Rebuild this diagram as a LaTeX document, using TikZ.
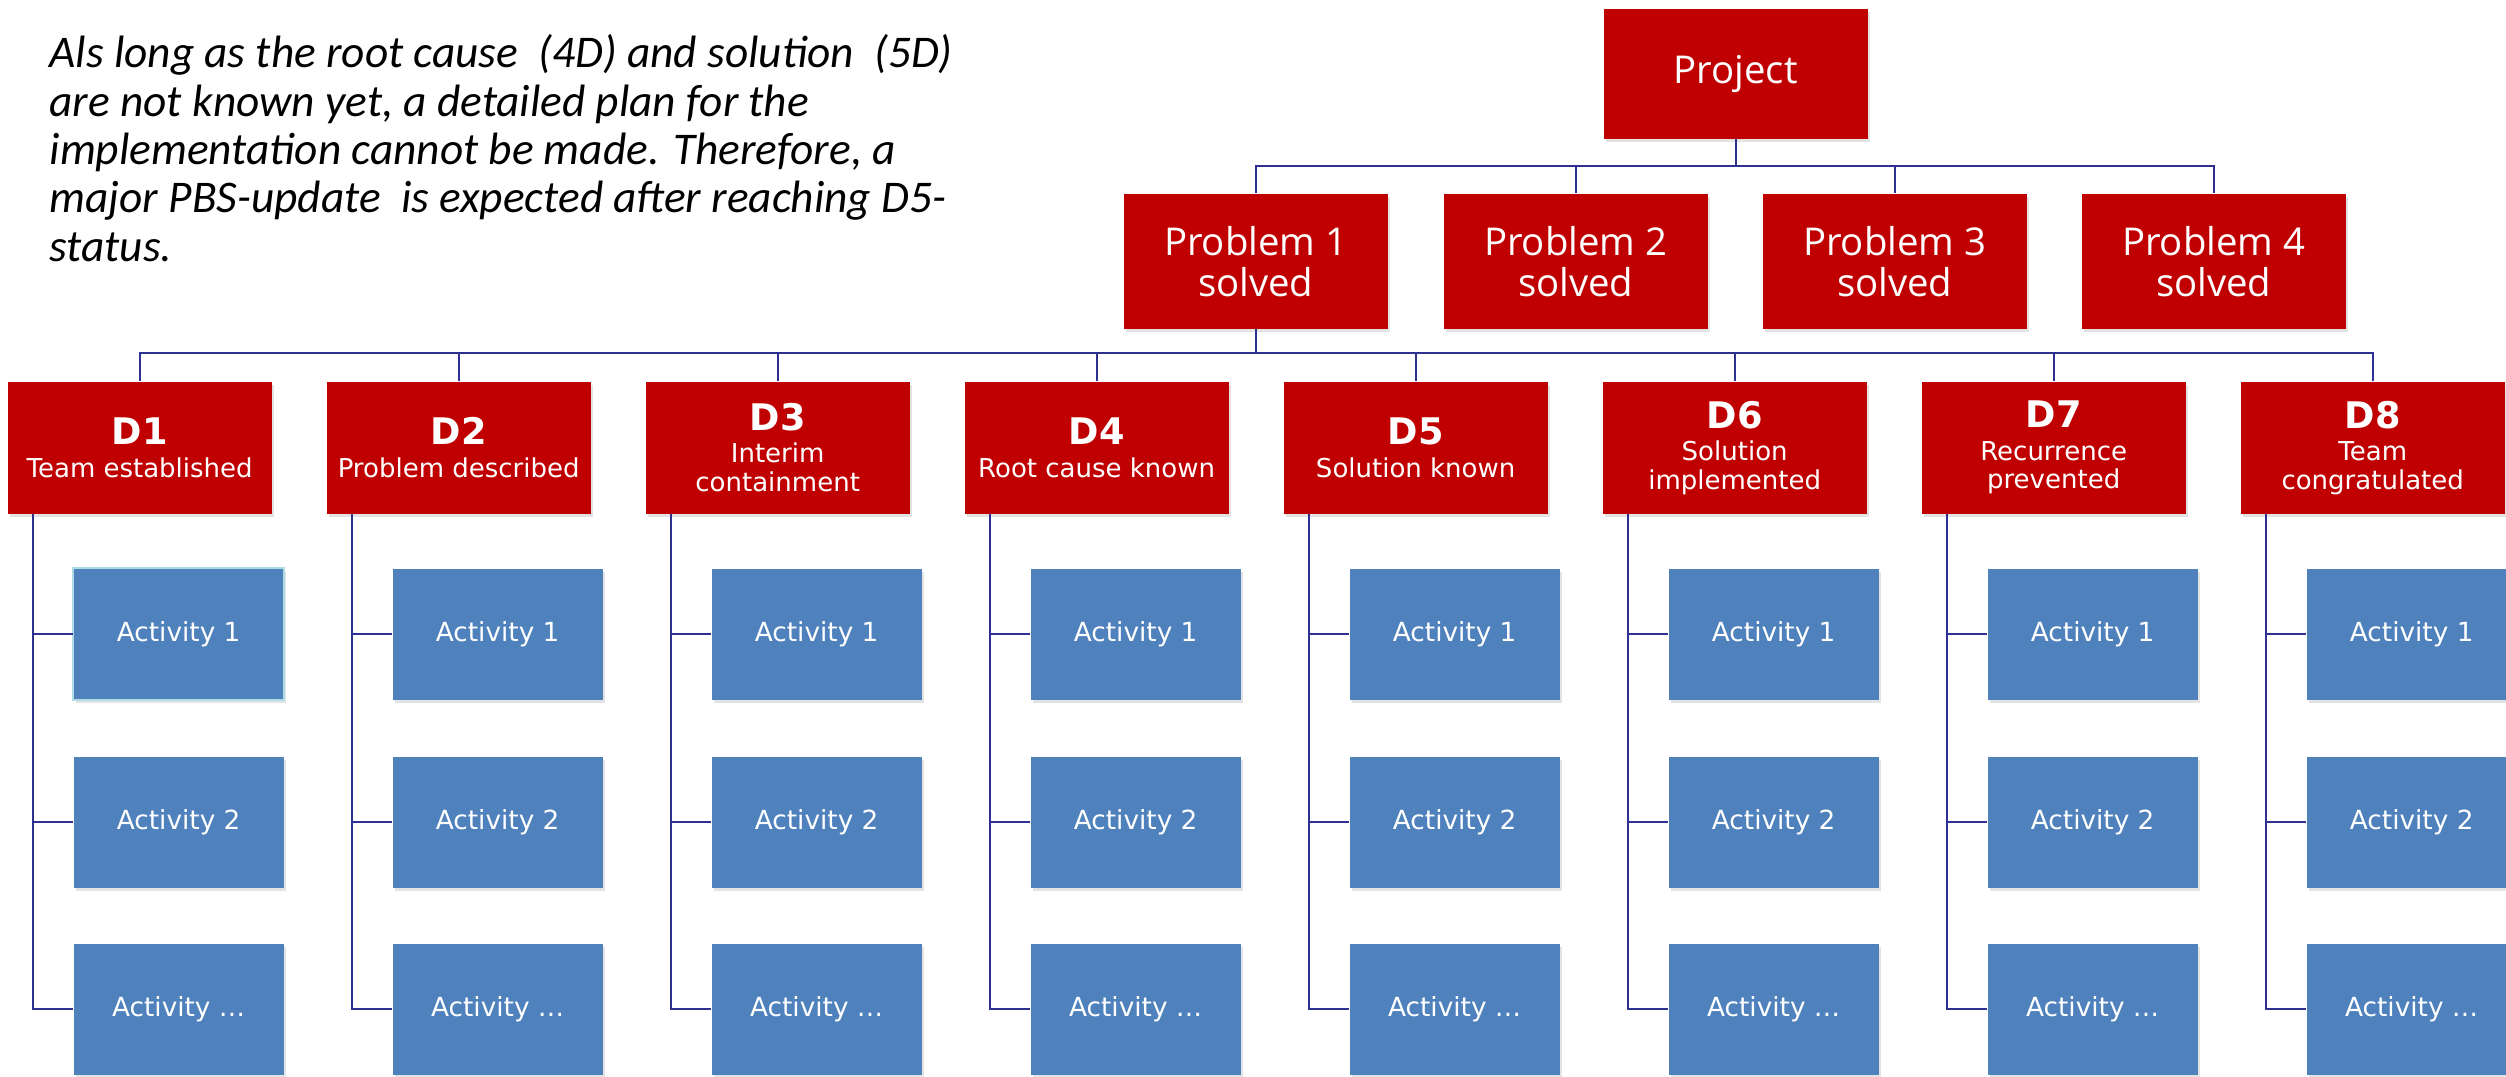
\documentclass[tikz,border=0pt]{standalone}
\usepackage{fontspec}
\setmainfont{DejaVu Sans}
\newfontfamily\segoe{Open Sans}
\newfontfamily\notefont{Carlito}
\usetikzlibrary{shadows}
\definecolor{boxred}{RGB}{192,0,0}
\definecolor{boxblue}{RGB}{79,129,189}
\definecolor{linkblue}{RGB}{46,49,146}
\definecolor{glow}{RGB}{175,220,228}
\begin{document}
\begin{tikzpicture}[x=0.3pt,y=-0.3pt,
  shd/.style={drop shadow={shadow xshift=0.7pt,shadow yshift=-0.9pt,opacity=0.22}},
  redbox/.style={fill=boxred,text=white,inner sep=0pt,minimum width=79.2pt,anchor=north west,align=center,shd},
  topbox/.style={redbox,font=\segoe\fontsize{11.5}{12.3}\selectfont},
  dbox/.style={redbox,minimum height=39.6pt,font=\fontsize{7.8}{8.6}\selectfont},
  actbox/.style={fill=boxblue,text=white,inner sep=0pt,minimum width=63pt,minimum height=39.3pt,anchor=north west,font=\fontsize{7.9}{9}\selectfont,shd},
  link/.style={draw=linkblue,line width=0.6pt}]
\useasboundingbox (0,0) rectangle (2506,1076);
\clip (0,0) rectangle (2506,1076);

% note
\node[anchor=north west,align=left,inner sep=0pt,font=\notefont\itshape\fontsize{13.6}{14.5}\selectfont] (note) at (49,34)
 {Als long as the root cause~ (4D) and solution~ (5D)\\are not known yet, a detailed plan for the\\implementation cannot be made. Therefore, a\\major PBS-update~ is expected after reaching D5-\\status.};

% project and problems
\node[topbox,minimum height=39pt] (proj) at (1603,8) {Project};
\foreach \i/\x in {1/1123,2/1443,3/1762,4/2081}
  \node[topbox,minimum height=40.5pt] (P\i) at (\x,193) {Problem \i\\solved};

% D boxes
\foreach \i/\x/\t in {1/7/{Team established},2/326/{Problem described},3/645/{Interim\\containment},4/964/{Root cause known},5/1283/{Solution known},6/1602/{Solution\\implemented},7/1921/{Recurrence\\prevented},8/2240/{Team\\congratulated}}
  \node[dbox] (D\i) at (\x,381) {{\fontsize{11}{12}\selectfont\bfseries D\i}\\[1.1pt]\t};

% activities
\foreach \i/\x in {1/73,2/392,3/711,4/1030,5/1349,6/1668,7/1987,8/2306}{
  \node[actbox] (A\i-1) at (\x,568) {Activity 1};
  \node[actbox] (A\i-2) at (\x,756) {Activity 2};
  \node[actbox] (A\i-3) at (\x,943) {Activity …};
}
\draw[glow,line width=0.6pt] (A1-1.north west) rectangle (A1-1.south east);

% connectors top
\coordinate (pbar) at (proj.south |- 0,166);
\draw[link] (proj.south) -- (pbar);
\draw[link] (P1.north) |- (pbar) -| (P4.north);
\foreach \i in {2,3}
  \draw[link] (P\i.north) -- (P\i.north |- pbar);

% connectors to D
\coordinate (dbar) at (P1.south |- 0,353);
\draw[link] (P1.south) -- (dbar);
\draw[link] (D1.north) |- (dbar) -| (D8.north);
\foreach \i in {2,...,7}
  \draw[link] (D\i.north) -- (D\i.north |- dbar);

% stems to activities
\foreach \i in {1,...,8}{
  \coordinate (s\i) at ([xshift=7.8pt]D\i.south west);
  \draw[link] (s\i) |- (A\i-3.west);
  \draw[link] (s\i |- A\i-1.west) -- (A\i-1.west);
  \draw[link] (s\i |- A\i-2.west) -- (A\i-2.west);
}
\end{tikzpicture}
\end{document}
